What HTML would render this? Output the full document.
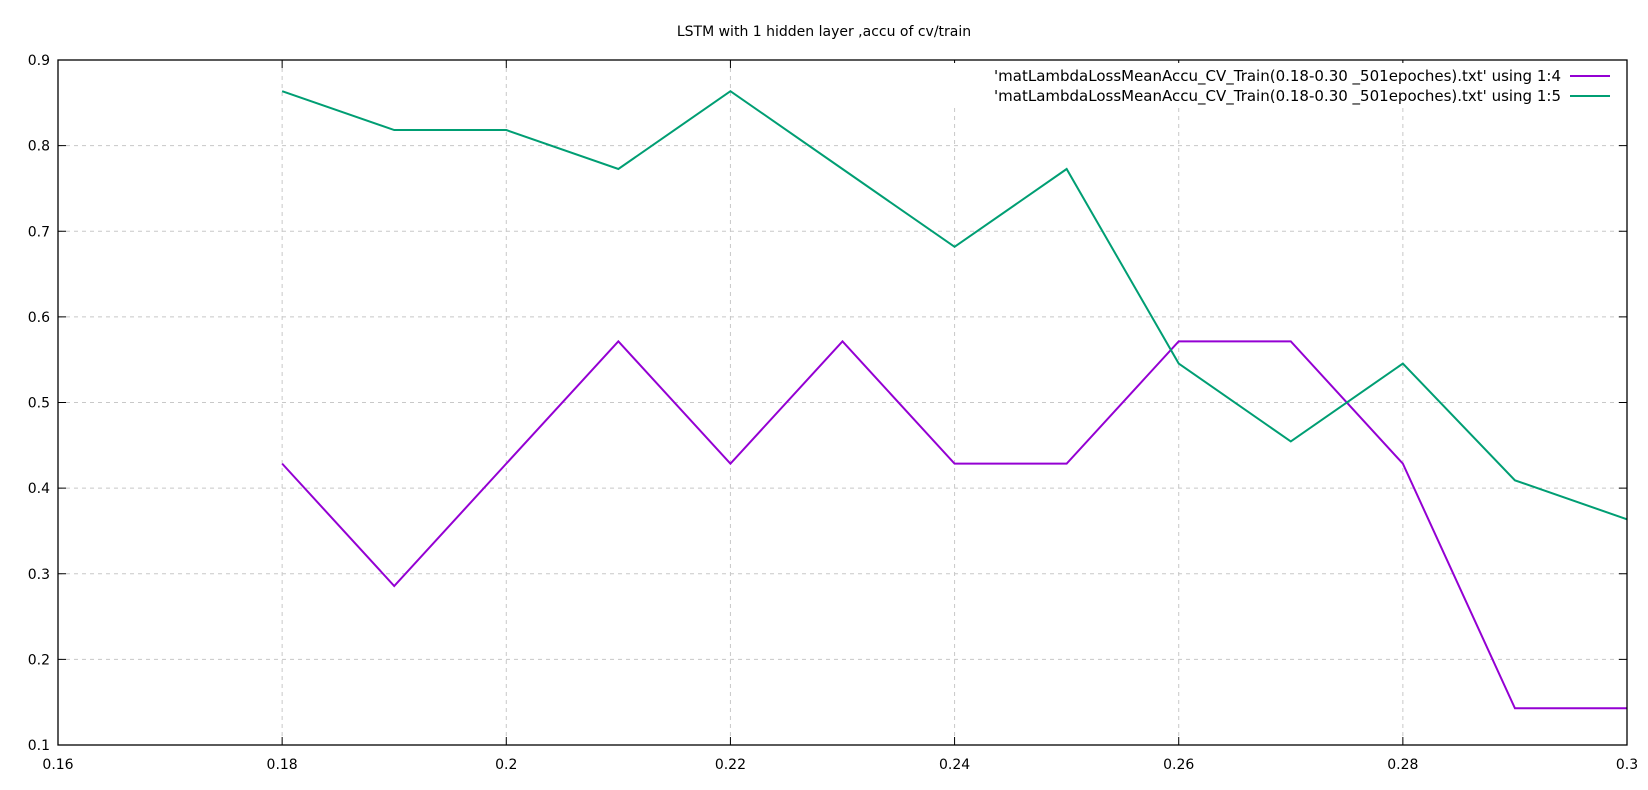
<!DOCTYPE html>
<html><head><meta charset="utf-8"><style>
body{margin:0;background:#fff}
svg text{font-family:"DejaVu Sans","Liberation Sans",sans-serif;font-size:14px;fill:#000}
</style></head><body>
<svg id="chart" width="1648" height="785" xmlns="http://www.w3.org/2000/svg">
<rect width="1648" height="785" fill="#fff"/>
<text x="824" y="36" text-anchor="middle">LSTM with 1 hidden layer ,accu of cv/train</text>
<g id="grid"></g><g id="series"></g><g id="axes"></g><g id="legend"></g>
</svg>
<script>
const xVals=[0.18,0.19,0.20,0.21,0.22,0.23,0.24,0.25,0.26,0.27,0.28,0.29,0.30];
const cvAccu=[0.4286,0.2857,0.4286,0.5714,0.4286,0.5714,0.4286,0.4286,0.5714,0.5714,0.4286,0.1429,0.1429];
const trainAccu=[0.8636,0.8182,0.8182,0.7727,0.8636,0.7727,0.6818,0.7727,0.5455,0.4545,0.5455,0.4091,0.3636];
const xTicks=[0.16,0.18,0.20,0.22,0.24,0.26,0.28,0.30];
const xTickLabels=["0.16","0.18","0.2","0.22","0.24","0.26","0.28","0.3"];
const yTicks=[0.1,0.2,0.3,0.4,0.5,0.6,0.7,0.8,0.9];
const yTickLabels=["0.1","0.2","0.3","0.4","0.5","0.6","0.7","0.8","0.9"];
const L=58,R=1627,T=60,B=745;
const sx=v=>L+(v-0.16)/(0.30-0.16)*(R-L);
const sy=v=>B-(v-0.1)/(0.9-0.1)*(B-T);
const NS="http://www.w3.org/2000/svg";
function mk(tag,attrs,parent){const e=document.createElementNS(NS,tag);for(const k in attrs)e.setAttribute(k,attrs[k]);parent.appendChild(e);return e;}
const grid=document.getElementById('grid'),axes=document.getElementById('axes'),ser=document.getElementById('series'),leg=document.getElementById('legend');
xTicks.forEach((t,i)=>{const x=sx(t);
 if(i>0&&i<xTicks.length-1){const g=mk('line',{x1:x,x2:x,y1:T,y2:B,stroke:'#c8c8c8','stroke-dasharray':'4,4'},grid);
 
 }
 mk('line',{x1:x,x2:x,y1:B,y2:B-8,stroke:'#000'},axes);
 mk('line',{x1:x,x2:x,y1:T,y2:T+8,stroke:'#000'},axes);
 const tx=mk('text',{x:x,y:B+24,'text-anchor':'middle'},axes);tx.textContent=xTickLabels[i];
 
 
});
yTicks.forEach((t,i)=>{const y=sy(t);
 if(i>0&&i<yTicks.length-1){const g=mk('line',{x1:L,x2:R,y1:y,y2:y,stroke:'#c8c8c8','stroke-dasharray':'4,4'},grid);
 
 }
 mk('line',{x1:L,x2:L+8,y1:y,y2:y,stroke:'#000'},axes);
 mk('line',{x1:R,x2:R-8,y1:y,y2:y,stroke:'#000'},axes);
 const tx=mk('text',{x:L-8,y:y+5,'text-anchor':'end'},axes);tx.textContent=yTickLabels[i];
 
 
});
const fr=mk('rect',{x:L,y:T,width:R-L,height:B-T,fill:'none',stroke:'#000','stroke-width':1.3},axes);


mk('rect',{x:940,y:63,width:680,height:42,fill:'#fff'},leg);
function series(vals,color,name){
 const p=mk('polyline',{points:vals.map((v,i)=>sx(xVals[i])+','+sy(v)).join(' '),fill:'none',stroke:color,'stroke-width':2},ser);
 
 
}
series(cvAccu,'#9400d3','series-using-1-4');
series(trainAccu,'#009e73','series-using-1-5');
[["'matLambdaLossMeanAccu_CV_Train(0.18-0.30 _501epoches).txt' using 1:4",'#9400d3'],["'matLambdaLossMeanAccu_CV_Train(0.18-0.30 _501epoches).txt' using 1:5",'#009e73']].forEach((e,i)=>{
 const y=76+i*20;
 const t=mk('text',{x:1561,y:y+5,'text-anchor':'end',style:'font-size:15px'},leg);t.textContent=e[0];
 
 
 mk('line',{x1:1570,x2:1610,y1:y,y2:y,stroke:e[1],'stroke-width':2},leg);
});
</script>
</body></html>
